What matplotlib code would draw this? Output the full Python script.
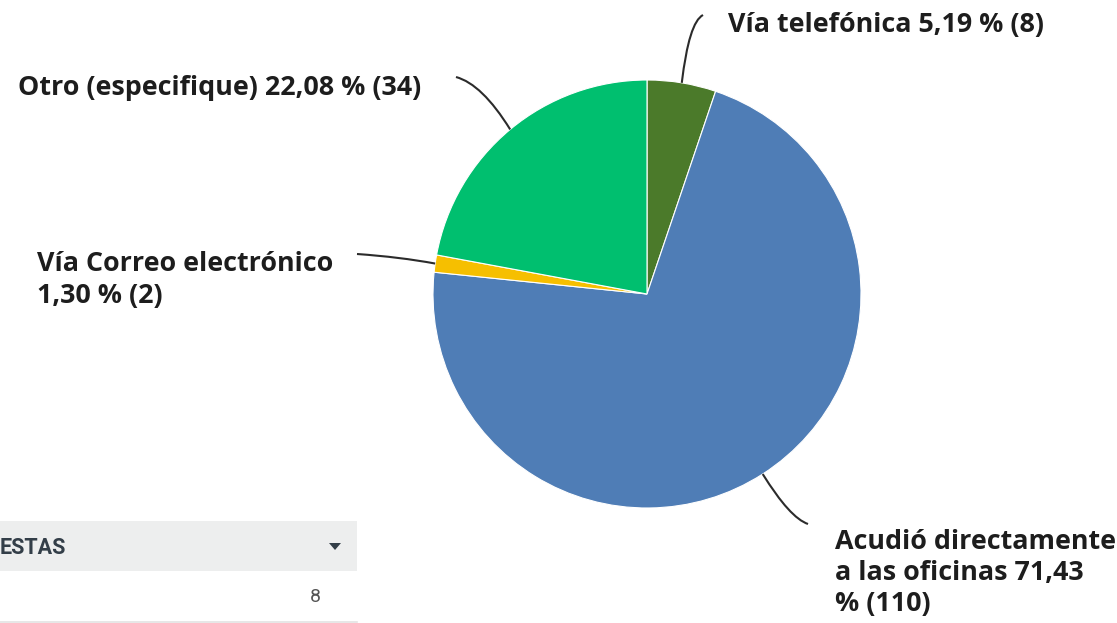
import matplotlib
matplotlib.use("Agg")
import matplotlib.pyplot as plt
import numpy as np
from matplotlib.path import Path
from matplotlib.patches import PathPatch, Rectangle, Polygon

# Survey answers: how respondents made contact
categories = ["Vía telefónica", "Acudió directamente a las oficinas",
              "Vía Correo electrónico", "Otro (especifique)"]
counts = [8, 110, 2, 34]
percent_labels = ["5,19 %", "71,43 %", "1,30 %", "22,08 %"]
colors = ["#4b7a2a", "#4f7db6", "#f6bf00", "#00bf6f"]

W, H = 1117, 623
fig = plt.figure(figsize=(W / 100, H / 100), dpi=100)
ax = fig.add_axes([0, 0, 1, 1])

cx, cy, r = 647, H - 294, 214
wedges, _ = ax.pie(counts, colors=colors, startangle=90, counterclock=False,
                   center=(cx, cy), radius=r, frame=True,
                   wedgeprops=dict(linewidth=0.8, edgecolor="white"))
ax.set_xlim(0, W)
ax.set_ylim(0, H)
ax.set_aspect("equal")
ax.axis("off")

text_color = "#1d1d1d"
font = dict(family=["Open Sans", "DejaVu Sans"], fontsize=19.4, fontweight="bold",
            color=text_color)

# leader lines: edge point at the wedge's mid angle, then a soft curve to the label
def leader(w, ctrl, end):
    mid = np.deg2rad((w.theta1 + w.theta2) / 2)
    start = (cx + r * np.cos(mid), cy + r * np.sin(mid))
    ctrl = (ctrl[0], H - ctrl[1])
    end = (end[0], H - end[1])
    path = Path([start, ctrl, end], [Path.MOVETO, Path.CURVE3, Path.CURVE3])
    ax.add_patch(PathPatch(path, fill=False, edgecolor="#2b2b2b", linewidth=1.5))

leader(wedges[0], (689, 22), (703, 15))
leader(wedges[1], (790, 518), (808, 524))
leader(wedges[2], (400, 257), (357, 254))
leader(wedges[3], (482, 84), (456, 77))

ax.text(728, H - 25, f"{categories[0]} {percent_labels[0]} ({counts[0]})",
        ha="left", va="center", **font)
ax.text(835, H - 573,
        f"Acudió directamente\na las oficinas {percent_labels[1][:-2]}\n% ({counts[1]})",
        ha="left", va="center", linespacing=1.27, **font)
ax.text(37, H - 280, f"{categories[2]}\n{percent_labels[2]} ({counts[2]})",
        ha="left", va="center", linespacing=1.27, **font)
ax.text(18, H - 88, f"{categories[3]} {percent_labels[3]} ({counts[3]})",
        ha="left", va="center", **font)

# partial response table below the chart
ax.add_patch(Rectangle((0, H - 571), 357, 50, facecolor="#edeeee", edgecolor="none"))
ax.text(0, H - 548, "ESTAS", ha="left", va="center", fontsize=15.5, fontweight="bold",
        family=["Roboto", "DejaVu Sans"], color="#333e48")
ax.add_patch(Polygon([(329, H - 543), (341, H - 543), (335, H - 550)], closed=True,
                     facecolor="#333e48", edgecolor="none"))
ax.text(321, H - 597, "8", ha="right", va="center", fontsize=14,
        family=["Roboto", "DejaVu Sans"], color="#555555")
ax.plot([0, 357], [H - 621.5, H - 621.5], color="#e3e3e3", linewidth=1.2)

fig.savefig("out.png", dpi=100, facecolor="white")
